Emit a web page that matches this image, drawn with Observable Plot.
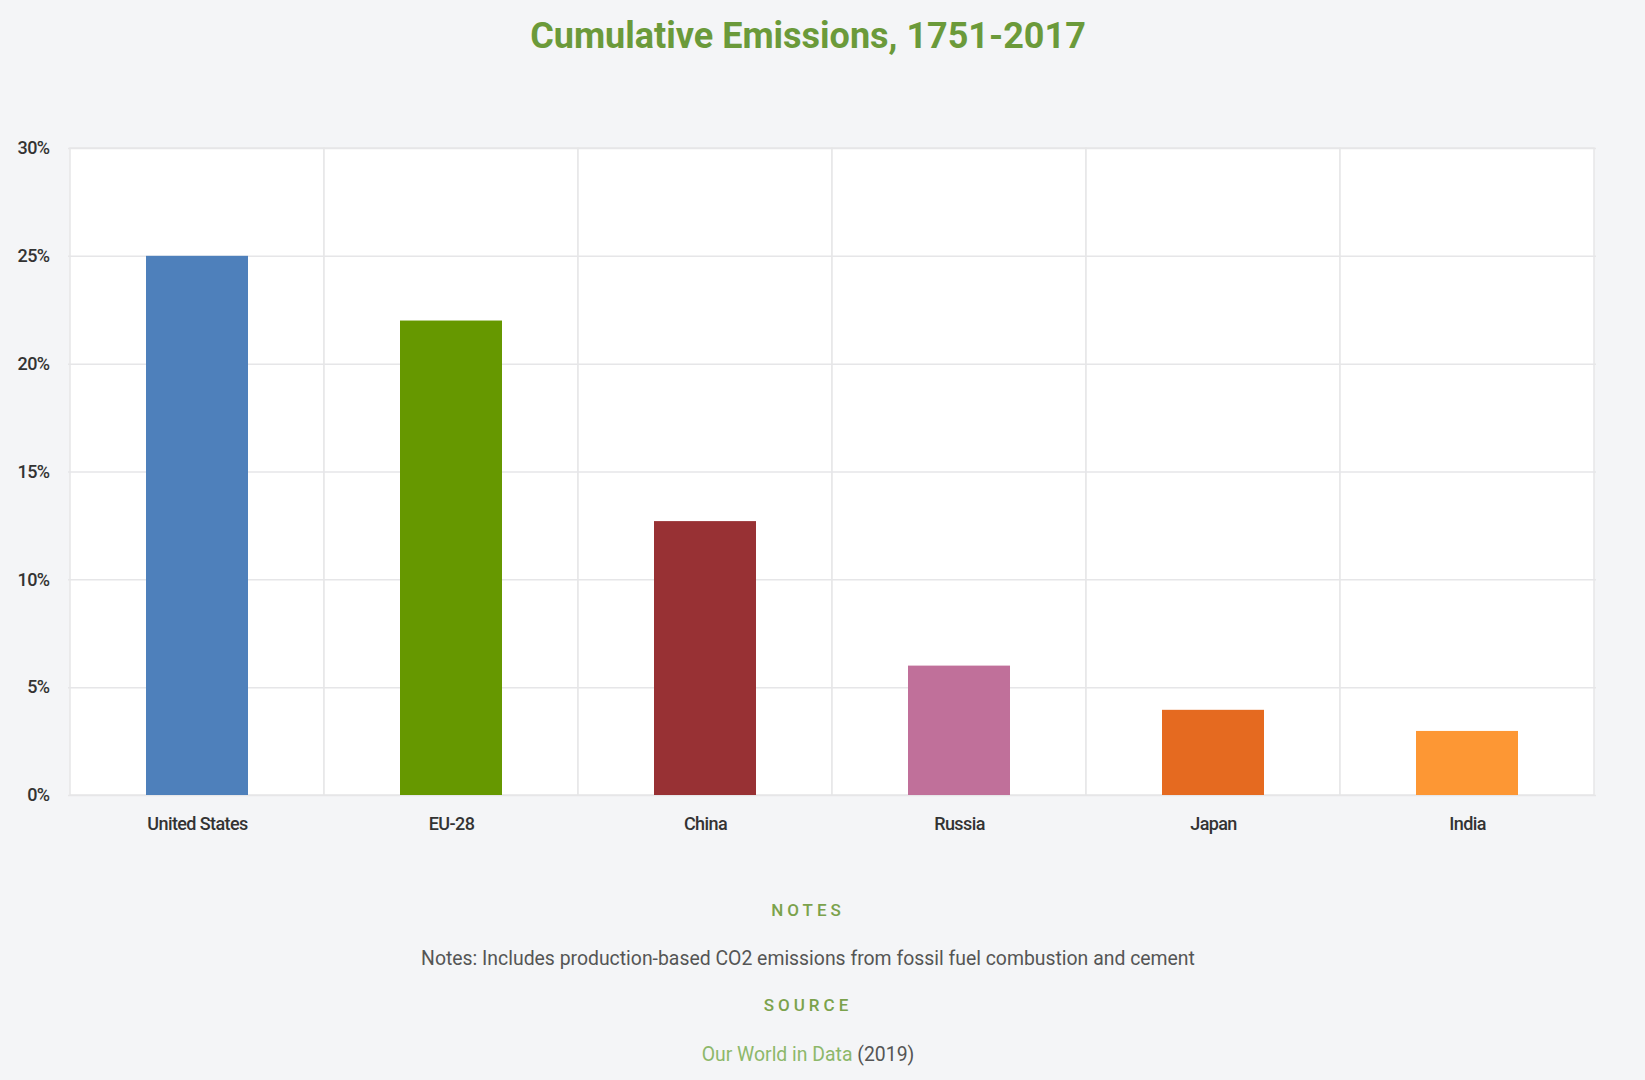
<!DOCTYPE html>
<html>
<head>
<meta charset="utf-8">
<script src="https://cdn.jsdelivr.net/npm/d3@7"></script>
<script src="https://cdn.jsdelivr.net/npm/@observablehq/plot@0.6"></script>
<style>
  html, body { margin: 0; padding: 0; background: #f4f5f7; }
  body { width: 1645px; height: 1080px; position: relative; overflow: hidden; font-family: Roboto, "Noto Sans", sans-serif; }
  #title { position: absolute; top: 15px; left: 0; width: 1616px; text-align: center; color: #6b9a3a; font: 700 36px Roboto, sans-serif; }
  #chart { position: absolute; top: 110px; left: 0; }
  .head { position: absolute; left: 0; width: 1616px; text-align: center; color: #7ba24c; font: 500 17px Roboto, sans-serif; letter-spacing: 4px; }
  .txt { position: absolute; left: 0; width: 1616px; text-align: center; color: #555; font: 400 19.4px Roboto, sans-serif; }
  .txt a { color: #8db86a; text-decoration: none; }
</style>
</head>
<body>
<div id="title">Cumulative Emissions, 1751-2017</div>
<div id="chart"></div>
<div class="head" style="top:900px">NOTES</div>
<div class="txt" style="top:947px">Notes: Includes production-based CO2 emissions from fossil fuel combustion and cement</div>
<div class="head" style="top:995px">SOURCE</div>
<div class="txt" style="top:1043px"><a>Our World in Data</a> (2019)</div>
<script>
const countries = ["United States", "EU-28", "China", "Russia", "Japan", "India"];
const shares = [25.0, 22.0, 12.7, 6.0, 3.95, 2.97];
const colors = ["#4e80bb", "#669800", "#983134", "#c0709a", "#e56a20", "#fd9734"];
const yTicks = [0, 5, 10, 15, 20, 25, 30];

const data = countries.map((c, i) => ({country: c, share: shares[i], color: colors[i]}));
const cells = countries.map(c => ({country: c}));

const chart = Plot.plot({
  width: 1645,
  height: 735,
  marginLeft: 68,
  marginRight: 49,
  marginTop: 38,
  marginBottom: 50,
  style: {background: "transparent", fontFamily: "Roboto, sans-serif", letterSpacing: "-0.6px"},
  x: {domain: countries, padding: 0, label: null, tickSize: 0},
  y: {domain: [0, 30], ticks: yTicks, tickFormat: d => d + "%", label: null, tickSize: 0},
  marks: [
    Plot.barY(cells, {x: "country", y1: 0, y2: 30, fill: "white", stroke: "#e6e6e8", strokeWidth: 1.5}),
    Plot.ruleY(yTicks, {stroke: "#e6e6e8", strokeWidth: 1.5}),
    Plot.barY(data, {x: "country", y: "share", fill: "color", insetLeft: 76, insetRight: 76}),
    Plot.axisX({tickSize: 0, tickPadding: 22, fontSize: 18, fill: "#333", fontWeight: 500}),
    Plot.axisY({ticks: yTicks, tickFormat: d => d + "%", tickSize: 0, tickPadding: 19, fontSize: 18, fill: "#333", fontWeight: 500})
  ]
});
document.getElementById("chart").appendChild(chart);
</script>
</body>
</html>
